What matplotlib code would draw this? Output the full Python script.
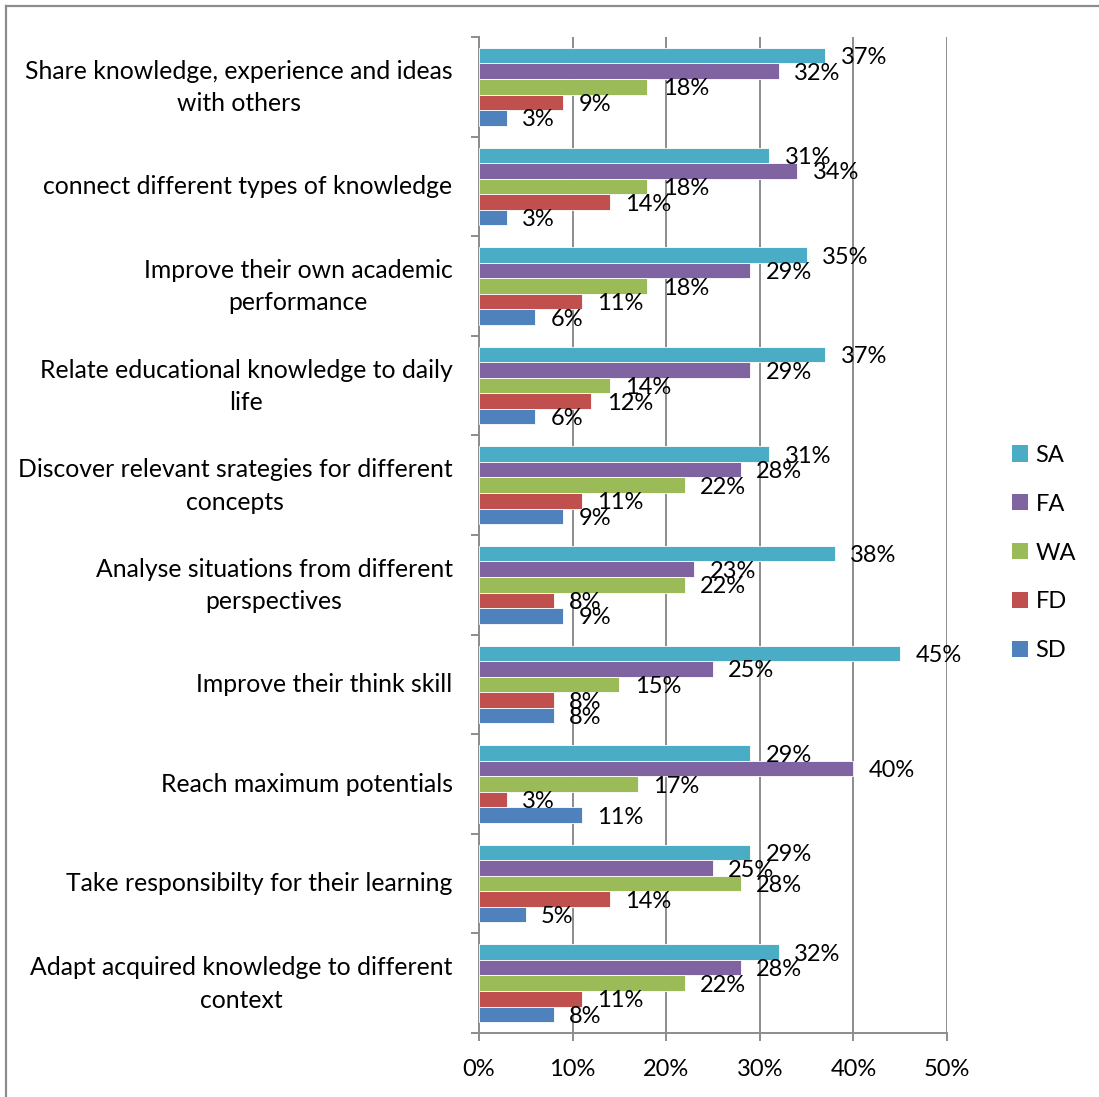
import matplotlib
matplotlib.use("Agg")
import matplotlib.pyplot as plt
from matplotlib.lines import Line2D
from matplotlib.patches import Patch
from matplotlib.transforms import ScaledTranslation

categories = [
    "Share knowledge, experience and ideas\nwith others",
    "connect different types of knowledge",
    "Improve their own academic\nperformance",
    "Relate educational knowledge to daily\nlife",
    "Discover relevant srategies for different\nconcepts",
    "Analyse situations from different\nperspectives",
    "Improve their think skill",
    "Reach maximum potentials",
    "Take responsibilty for their learning",
    "Adapt acquired knowledge to different\ncontext",
]

series_names = ["SA", "FA", "WA", "FD", "SD"]
SA = [37, 31, 35, 37, 31, 38, 45, 29, 29, 32]
FA = [32, 34, 29, 29, 28, 23, 25, 40, 25, 28]
WA = [18, 18, 18, 14, 22, 22, 15, 17, 28, 22]
FD = [9, 14, 11, 12, 11, 8, 8, 3, 14, 11]
SD = [3, 3, 6, 6, 9, 9, 8, 11, 5, 8]
series_values = [SA, FA, WA, FD, SD]
colors = ["#4BACC6", "#8064A2", "#9BBB59", "#C0504D", "#4F81BD"]
x_ticks = [0, 10, 20, 30, 40, 50]

plt.rcParams["font.family"] = ["Lato", "DejaVu Sans"]
FS = 17
FS_CAT = 17.8

W, H = 1099, 1097
fig = plt.figure(figsize=(W / 100, H / 100), dpi=100)
ax = fig.add_axes([479 / W, 1 - 1033 / H, (947 - 479) / W, (1033 - 37) / H])

n = len(categories)
bar_h = 0.156
for k, (name, vals, col) in enumerate(zip(series_names, series_values, colors)):
    ys = [i + (k - 2) * bar_h for i in range(n)]
    ax.barh(ys, vals, height=bar_h, color=col, edgecolor="white",
            linewidth=0.6, label=name, zorder=3)
    for y, v in zip(ys, vals):
        ax.annotate(f"{v}%", xy=(v, y), xytext=(11, -1.5),
                    textcoords="offset points", ha="left", va="center",
                    fontsize=FS, color="black", zorder=4)

ax.set_xlim(0, 50)
ax.set_ylim(n - 0.5, -0.5)

ax.set_xticks(x_ticks)
ax.set_xticklabels([f"{t}%" for t in x_ticks], fontsize=FS)
ax.xaxis.grid(True, color="#8C8C8C", linewidth=1.4, zorder=0)
ax.tick_params(axis="x", length=6, width=1.4, color="#8C8C8C", pad=13)

# category separators as major ticks, labels on minor ticks at band centres
ax.set_yticks([i - 0.5 for i in range(n + 1)])
ax.set_yticklabels([])
ax.set_yticks(range(n), minor=True)
ax.set_yticklabels(categories, minor=True, fontsize=FS_CAT, ha="right",
                   multialignment="center", linespacing=1.5)
ax.tick_params(axis="y", which="major", length=6, width=1.4, color="#8C8C8C")
ax.tick_params(axis="y", which="minor", length=0, pad=19)

# nudge category labels upward a little (more for two-line labels)
for lbl in ax.get_yticklabels(minor=True):
    dy_px = 6 if "\n" in lbl.get_text() else 2
    lbl.set_transform(lbl.get_transform()
                      + ScaledTranslation(0, dy_px / 100, fig.dpi_scale_trans))

for side in ["top", "right"]:
    ax.spines[side].set_visible(False)
ax.spines["left"].set_color("#8C8C8C")
ax.spines["left"].set_linewidth(1.4)
ax.spines["bottom"].set_color("#8C8C8C")
ax.spines["bottom"].set_linewidth(1.4)

handles = [Patch(facecolor=c, edgecolor="none") for c in colors]
fig.legend(handles, series_names, loc="center left",
           bbox_to_anchor=(1012 / W, 1 - 553 / H), frameon=False,
           fontsize=FS, handlelength=0.68, handleheight=0.68,
           handletextpad=0.32, labelspacing=1.18, borderpad=0,
           borderaxespad=0)

# outer chart frame
fig.add_artist(Line2D([6 / W, 1.0], [1 - 6 / H, 1 - 6 / H],
                      transform=fig.transFigure, color="#8C8C8C", linewidth=1.6))
fig.add_artist(Line2D([6 / W, 6 / W], [0.0, 1 - 6 / H],
                      transform=fig.transFigure, color="#8C8C8C", linewidth=1.6))

fig.savefig("out.png", dpi=100, facecolor="white")
